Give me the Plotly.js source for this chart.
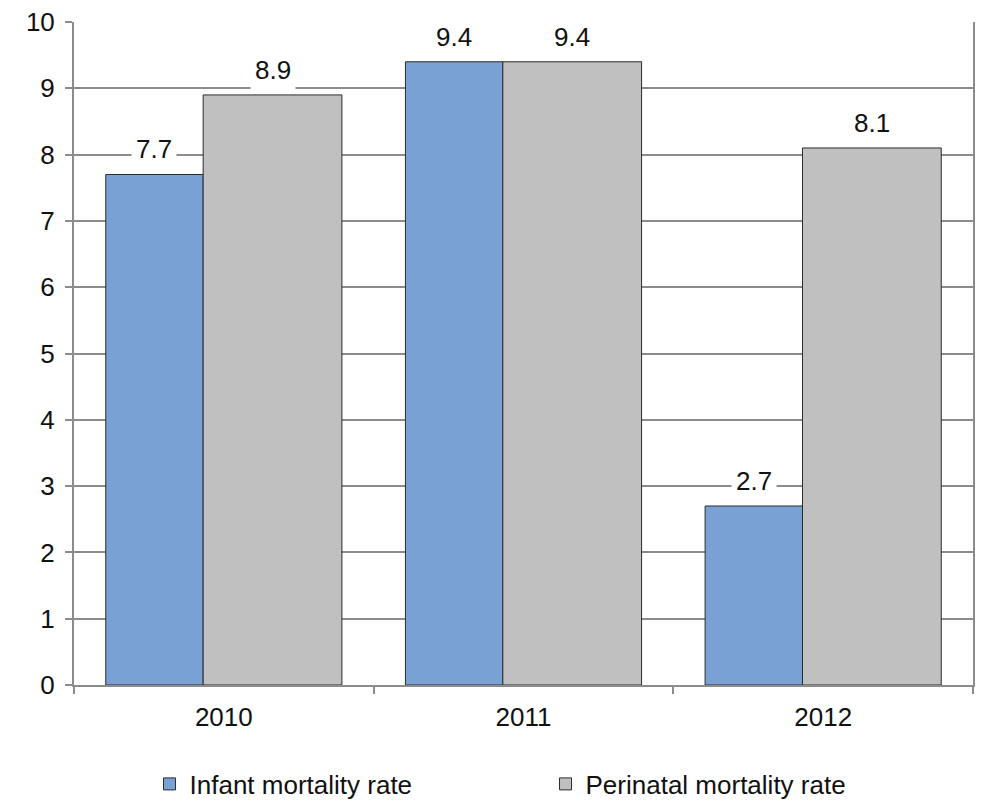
<!DOCTYPE html>
<html>
<head>
<meta charset="utf-8">
<script src="https://cdn.plot.ly/plotly-3.0.1.min.js"></script>
<style>html,body{margin:0;padding:0;background:#fff;}#chart{width:989px;height:808px;}</style>
</head>
<body>
<div id="chart"></div>
<script>
var years = ['2010', '2011', '2012'];
var infantRate = [7.7, 9.4, 2.7];
var perinatalRate = [8.9, 9.4, 8.1];
var seriesNames = ['Infant mortality rate', 'Perinatal mortality rate'];
var yTicks = [0, 1, 2, 3, 4, 5, 6, 7, 8, 9, 10];

var FONT = 'Liberation Sans, Arial, sans-serif';
var FS = 26;
var styles = [
  {color: '#7AA1D3', offset: -0.394, width: 0.325},
  {color: '#C0C0C0', offset: -0.069, width: 0.463}
];
var seriesVals = [infantRate, perinatalRate];

var traces = seriesVals.map(function (vals, k) {
  return {
    type: 'bar',
    name: seriesNames[k],
    x: years,
    y: vals,
    offset: styles[k].offset,
    width: styles[k].width,
    marker: {color: styles[k].color, line: {color: '#2b2b2b', width: 1}},
    hoverinfo: 'x+y+name'
  };
});

var annotations = [];
seriesVals.forEach(function (vals, k) {
  vals.forEach(function (v, i) {
    annotations.push({
      x: i + styles[k].offset + styles[k].width / 2,
      y: v,
      xref: 'x', yref: 'y',
      text: v.toFixed(1),
      showarrow: false,
      yanchor: 'middle',
      yshift: 25,
      bgcolor: '#ffffff',
      borderpad: 4,
      font: {family: FONT, size: FS, color: '#111'}
    });
  });
});

var layout = {
  width: 989, height: 808,
  paper_bgcolor: '#fff', plot_bgcolor: '#fff',
  margin: {l: 74, r: 16, t: 22, b: 123, autoexpand: false},
  barmode: 'overlay',
  showlegend: true,
  font: {family: FONT, size: FS, color: '#111'},
  xaxis: {
    type: 'category',
    range: [-0.5, 2.5],
    showline: true, linecolor: '#8c8c8c', linewidth: 2,
    ticks: 'outside', tickson: 'boundaries', ticklen: 7, tickcolor: '#8c8c8c', tickwidth: 2,
    showgrid: false, zeroline: false,
    tickfont: {family: FONT, size: FS, color: '#111'},
    ticklabelstandoff: 8
  },
  yaxis: {
    range: [0, 10],
    tickvals: yTicks,
    ticktext: yTicks.map(String),
    showline: true, linecolor: '#8c8c8c', linewidth: 2, mirror: true,
    ticks: 'outside', ticklen: 7, tickcolor: '#8c8c8c', tickwidth: 2,
    showgrid: true, gridcolor: '#8c8c8c', gridwidth: 2,
    zeroline: false,
    tickfont: {family: FONT, size: FS, color: '#111'},
    ticklabelstandoff: 5
  },
  legend: {
    orientation: 'h',
    x: 0.5245, xanchor: 'center',
    yref: 'container',
    y: 0.0297, yanchor: 'middle',
    font: {family: FONT, size: FS, color: '#111'},
    entrywidth: 351,
    itemwidth: 30,
    bgcolor: 'rgba(0,0,0,0)'
  },
  annotations: annotations
};

Plotly.newPlot('chart', traces, layout, {displayModeBar: false, staticPlot: true});
</script>
</body>
</html>
